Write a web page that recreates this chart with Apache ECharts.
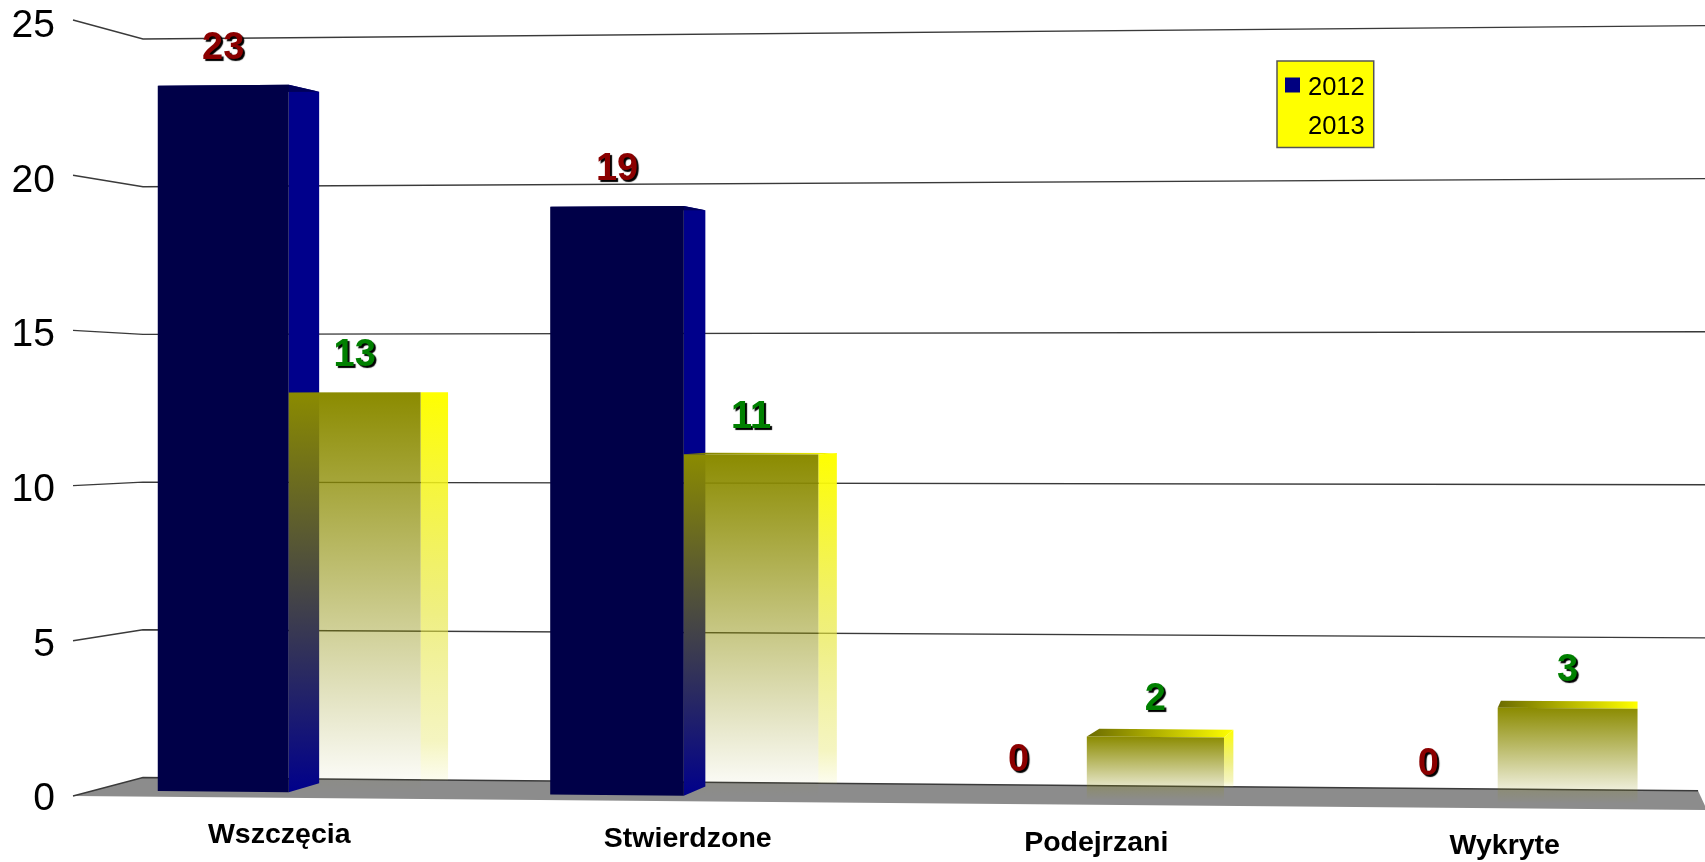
<!DOCTYPE html>
<html>
<head>
<meta charset="utf-8">
<style>
  html, body { margin: 0; padding: 0; background: #fff; }
  #chart { width: 1705px; height: 862px; }
</style>
</head>
<body>
<div id="chart"></div>
<script src="https://cdn.jsdelivr.net/npm/echarts@6/dist/echarts.min.js"></script>
<script>
const categories = ['Wszczęcia', 'Stwierdzone', 'Podejrzani', 'Wykryte'];
const values2012 = [23, 19, 0, 0];
const values2013 = [13, 11, 2, 3];
const yTicks = [0, 5, 10, 15, 20, 25];

const FONT = '"Liberation Sans", Arial, sans-serif';

// the old chart is a tilted 3d box, so axis pixels get pushed through this
const GRID = { left: 62, top: 23, width: 1634, height: 773 };
const BAR_VANISH = [1640, 390];
const WALL_VANISH = [1522, 413];
const WALL_DEPTH = 0.0483;
const BAR_FRONT = 0.0135;
const BAR_BACK = 0.0357;
const BAR_SHARE = 0.336;

function warp(px, py, depth, vanish) {
  const u = (px - GRID.left) / GRID.width;
  const x = px + 16 * (2 * u - 1) * (2 * u - 1) - 5;
  const y0 = 796 + 14 * u;
  const h = 776 + 28 * u;
  const y = y0 - ((GRID.top + GRID.height - py) / GRID.height) * h;
  return [x + (vanish[0] - x) * depth, y + (vanish[1] - y) * depth];
}

function vertical(stops) {
  return { type: 'linear', x: 0, y: 0, x2: 0, y2: 1, colorStops: stops };
}

function poly(points, fill) {
  return { type: 'polygon', shape: { points: points }, style: { fill: fill } };
}

function renderGridLine(params, api) {
  const sys = params.coordSys;
  const py = api.coord([0, api.value(0)])[1];
  const right = sys.x + sys.width;
  const isFloor = api.value(0) === 0;
  const a = warp(sys.x, py, 0, WALL_VANISH);
  const b = warp(sys.x, py, WALL_DEPTH, WALL_VANISH);
  // wall lines run off the page, the floor line stops at its corner
  const c = warp(isFloor ? right : right + 10, py, WALL_DEPTH, WALL_VANISH);
  const children = [];
  if (isFloor) {
    children.push(poly([a, b, c, warp(right, py, 0, WALL_VANISH)], '#8c8c8c'));
  }
  children.push({
    type: 'polyline',
    shape: { points: [a, b, c] },
    style: { fill: 'none', stroke: '#3a3a3a', lineWidth: 1.4 }
  });
  return { type: 'group', children: children };
}

function barCorners(xL, xR, top, base) {
  return {
    fl: warp(xL, top, BAR_FRONT, BAR_VANISH), fr: warp(xR, top, BAR_FRONT, BAR_VANISH),
    bl: warp(xL, top, BAR_BACK, BAR_VANISH), br: warp(xR, top, BAR_BACK, BAR_VANISH),
    flB: warp(xL, base, BAR_FRONT, BAR_VANISH), frB: warp(xR, base, BAR_FRONT, BAR_VANISH),
    brB: warp(xR, base, BAR_BACK, BAR_VANISH)
  };
}

function valueLabel(p, text, fill) {
  return {
    type: 'text',
    x: (p.fl[0] + p.fr[0]) / 2,
    y: p.fl[1] - 37,
    style: {
      text: String(text),
      fill: fill,
      font: 'bold 38px ' + FONT,
      align: 'center',
      verticalAlign: 'middle',
      textShadowColor: '#000',
      textShadowOffsetX: 2,
      textShadowOffsetY: 2,
      textShadowBlur: 1
    }
  };
}

function renderBlue(params, api) {
  const value = api.value(1);
  const c = api.coord([api.value(0), value]);
  const base = api.coord([api.value(0), 0])[1];
  const w = api.size([1, 0])[0] * BAR_SHARE;
  const p = barCorners(c[0] - w, c[0], c[1], base);
  const children = [];
  if (value > 0) {
    children.push(poly([p.fr, p.br, p.brB, p.frB], '#00008b'));
    children.push(poly([p.fl, p.bl, p.br, p.fr], '#00005a'));
    children.push(poly([p.fl, p.fr, p.frB, p.flB], '#000048'));
  }
  children.push(valueLabel(p, value, '#8b0000'));
  return { type: 'group', children: children };
}

function renderYellow(params, api) {
  const value = api.value(1);
  const c = api.coord([api.value(0), value]);
  const base = api.coord([api.value(0), 0])[1];
  const w = api.size([1, 0])[0] * BAR_SHARE;
  const xR = c[0] + w;
  const p = barCorners(c[0], xR, c[1], base);
  // the side fades out where it meets the back of the floor
  const floorY = warp(xR, base, WALL_DEPTH, WALL_VANISH)[1];
  const children = [];
  children.push(poly([p.fr, p.br, [p.br[0], floorY], [p.fr[0], floorY]], vertical([
    { offset: 0, color: 'rgba(255,255,0,1)' },
    { offset: 0.57, color: 'rgba(230,230,60,0.64)' },
    { offset: 0.9, color: 'rgba(230,230,100,0.4)' },
    { offset: 1, color: 'rgba(230,230,100,0.1)' }
  ])));
  children.push(poly([p.fl, p.bl, p.br, p.fr], {
    type: 'linear', x: 0, y: 0, x2: 1, y2: 0,
    colorStops: [{ offset: 0, color: '#6b6b00' }, { offset: 1, color: '#ffff00' }]
  }));
  children.push(poly([p.fl, p.fr, p.frB, p.flB], vertical([
    { offset: 0, color: 'rgba(139,139,0,1)' },
    { offset: 1, color: 'rgba(139,139,0,0)' }
  ])));
  children.push(valueLabel(p, value, '#008000'));
  return { type: 'group', children: children };
}

const chart = echarts.init(document.getElementById('chart'));

chart.setOption({
  animation: false,
  backgroundColor: '#fff',
  grid: GRID,
  legend: {
    data: ['2012', '2013'],
    orient: 'vertical',
    left: 1277,
    top: 61,
    padding: [14, 9, 8, 8],
    itemWidth: 15,
    itemHeight: 15,
    itemGap: 12.5,
    selectedMode: false,
    backgroundColor: '#ffff00',
    borderColor: '#555',
    borderWidth: 1.5,
    borderRadius: 0,
    icon: 'rect',
    formatter: function (name) { return '{year|' + name + '}'; },
    textStyle: {
      rich: {
        year: {
          fontFamily: FONT,
          fontSize: 25.5,
          color: '#000',
          padding: [6, 0, 0, 3],
          textShadowColor: '#aaa',
          textShadowOffsetX: 1,
          textShadowOffsetY: 1
        }
      }
    }
  },
  xAxis: {
    type: 'category',
    data: categories.map(function (name, i) {
      // labels step down with the floor
      return { value: name, textStyle: { padding: [Math.round(i * 3.8), 0, 0, 26] } };
    }),
    axisLine: { show: false },
    axisTick: { show: false },
    axisLabel: { margin: 25, fontFamily: FONT, fontSize: 28.5, fontWeight: 'bold', color: '#000' }
  },
  yAxis: {
    type: 'value',
    min: 0,
    max: 25,
    interval: 5,
    axisLine: { show: false },
    axisTick: { show: false },
    splitLine: { show: false },
    axisLabel: {
      margin: 7,
      verticalAlign: 'top',
      padding: [-16, 0, 0, 0],
      fontFamily: FONT,
      fontSize: 39,
      color: '#000'
    }
  },
  series: [
    {
      type: 'custom',
      silent: true,
      z: 1,
      data: yTicks.map(function (v) { return [v]; }),
      encode: { y: 0 },
      renderItem: renderGridLine
    },
    {
      name: '2012',
      type: 'custom',
      silent: true,
      z: 2,
      itemStyle: { color: '#000080' },
      data: values2012.map(function (v, i) { return [i, v]; }),
      encode: { x: 0, y: 1 },
      renderItem: renderBlue
    },
    {
      name: '2013',
      type: 'custom',
      silent: true,
      z: 3,
      itemStyle: { color: '#ffff00' },
      data: values2013.map(function (v, i) { return [i, v]; }),
      encode: { x: 0, y: 1 },
      renderItem: renderYellow
    }
  ]
});
</script>
</body>
</html>
